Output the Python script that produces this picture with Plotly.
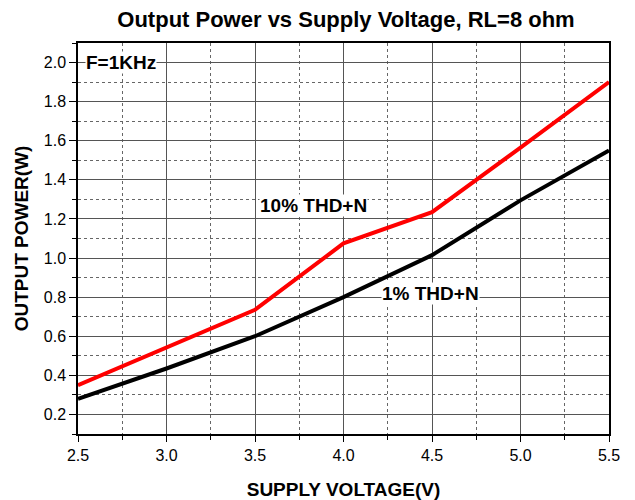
import plotly.graph_objects as go

voltage = [2.5, 3.0, 3.5, 4.0, 4.5, 5.0, 5.5]
power_10pct = [0.35, 0.54, 0.735, 1.075, 1.235, 1.565, 1.90]
power_1pct = [0.28, 0.435, 0.60, 0.80, 1.015, 1.295, 1.55]

# The page body has an 8px margin, so the figure is sized to fill the window.
W, H = 627, 492

fig = go.Figure()
fig.add_trace(go.Scatter(x=voltage, y=power_10pct, mode="lines",
                         line=dict(color="#ff0000", width=4), name="10% THD+N"))
fig.add_trace(go.Scatter(x=voltage, y=power_1pct, mode="lines",
                         line=dict(color="#000000", width=4), name="1% THD+N"))

font = "Liberation Sans, Arial, sans-serif"
fig.update_layout(
    width=W, height=H,
    margin=dict(l=70, r=26, t=35, b=66, autoexpand=False),
    paper_bgcolor="white", plot_bgcolor="white",
    showlegend=False,
    font=dict(family=font, size=16, color="black"),
    title=dict(text="<b>Output Power vs Supply Voltage, RL=8 ohm</b>",
               x=338 / W, xanchor="center", y=1 - 11 / H, yanchor="middle",
               font=dict(size=22, family=font)),
)
fig.update_xaxes(
    range=[2.5, 5.5], dtick=0.5, tickformat=".1f", automargin=False,
    showline=True, linecolor="black", linewidth=1.5, mirror=True,
    ticks="outside", ticklen=6, tickcolor="black",
    showgrid=True, gridcolor="#555555", gridwidth=1,
    zeroline=False,
    minor=dict(dtick=0.25, showgrid=True, griddash="dot", gridcolor="#666666",
               ticks="outside", ticklen=4, tickcolor="black"),
    title=dict(text="<b>SUPPLY VOLTAGE(V)</b>", font=dict(size=19), standoff=20),
)
fig.update_yaxes(
    range=[0.1, 2.1], tickvals=[0.2, 0.4, 0.6, 0.8, 1.0, 1.2, 1.4, 1.6, 1.8, 2.0],
    tickformat=".1f", automargin=False,
    showline=True, linecolor="black", linewidth=1.5, mirror=True,
    ticks="outside", ticklen=7, tickcolor="black",
    showgrid=True, gridcolor="#555555", gridwidth=1,
    zeroline=False,
    minor=dict(tickvals=[0.1, 0.3, 0.5, 0.7, 0.9, 1.1, 1.3, 1.5, 1.7, 1.9, 2.1],
               showgrid=True, griddash="dot", gridcolor="#666666",
               ticks="outside", ticklen=4, tickcolor="black"),
    title=dict(text="<b>OUTPUT POWER(W)</b>", font=dict(size=19), standoff=10),
)

fig.add_annotation(x=2.54, y=2.0, xref="x", yref="y", text="<b>F=1KHz</b>",
                   showarrow=False, xanchor="left", yanchor="middle",
                   bgcolor="white", font=dict(size=19), borderpad=0)
fig.add_annotation(x=3.83, y=1.27, xref="x", yref="y", text="<b>10% THD+N</b>",
                   showarrow=False, xanchor="center", yanchor="middle",
                   bgcolor="white", font=dict(size=19), borderpad=0)
fig.add_annotation(x=4.49, y=0.82, xref="x", yref="y", text="<b>1% THD+N</b>",
                   showarrow=False, xanchor="center", yanchor="middle",
                   bgcolor="white", font=dict(size=19), borderpad=0)

fig.write_html("out.html")
